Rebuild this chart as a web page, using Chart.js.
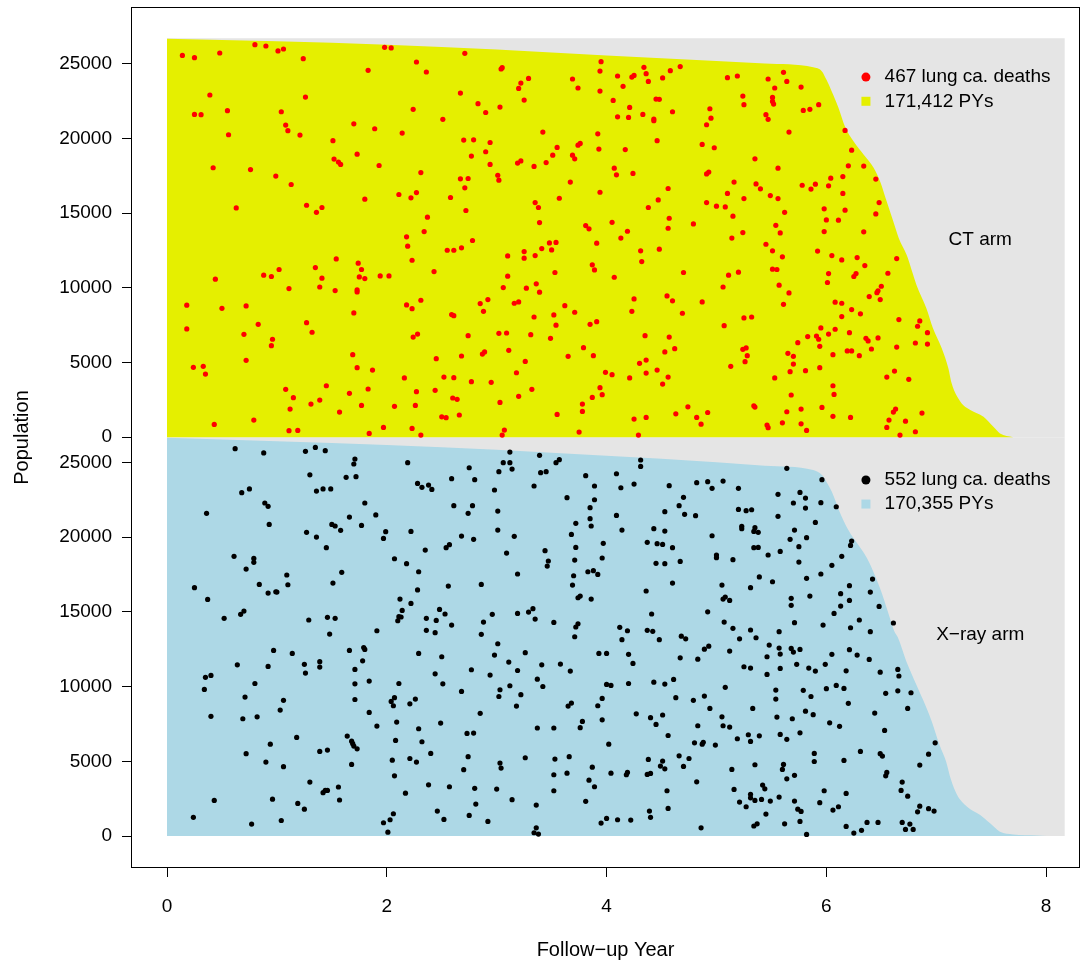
<!DOCTYPE html>
<html>
<head>
<meta charset="utf-8">
<script src="https://cdn.jsdelivr.net/npm/chart.js@4.4.1/dist/chart.umd.min.js"></script>
<style>
  html, body { margin: 0; padding: 0; background: #fff; }
</style>
</head>
<body>
<canvas id="grafica" width="1089" height="967"></canvas>
<script>
// Eje x y marcas
const xTicks = [0, 2, 4, 6, 8];
const yTicks = [0, 5000, 10000, 15000, 20000, 25000];

// Población en riesgo (miles) por año de seguimiento
const ctRiskYears = [0, 1, 2, 3, 4, 5, 5.44, 5.88, 5.96, 6.00, 6.05, 6.11, 6.17, 6.25, 6.34, 6.43, 6.49, 6.55, 6.61, 6.66, 6.73, 6.82, 6.91, 6.97, 7.05, 7.11, 7.14, 7.22, 7.31, 7.43, 7.52, 7.58, 7.70];
const ctRiskK = [26.67, 26.49, 26.27, 25.95, 25.55, 25.17, 25.0, 24.75, 24.48, 23.93, 23.12, 22.05, 20.78, 19.77, 18.90, 18.03, 17.09, 15.75, 14.41, 13.3, 12.20, 10.19, 8.63, 7.29, 5.95, 4.61, 3.60, 2.37, 1.81, 1.36, 0.69, 0.25, 0];
const xrayRiskYears = [0, 1, 2, 3, 4, 5, 5.44, 5.88, 5.96, 6.00, 6.05, 6.12, 6.20, 6.28, 6.37, 6.44, 6.50, 6.56, 6.62, 6.65, 6.73, 6.82, 6.90, 6.96, 7.03, 7.09, 7.13, 7.19, 7.28, 7.40, 7.49, 7.58, 7.70, 7.91, 8.0];
const xrayRiskK = [26.65, 26.42, 26.17, 25.85, 25.45, 25.02, 24.78, 24.50, 24.16, 23.71, 23.04, 21.71, 20.48, 19.59, 18.59, 17.47, 16.35, 15.01, 13.67, 13.3, 11.65, 10.11, 8.77, 7.65, 6.09, 4.97, 3.86, 2.74, 1.96, 1.41, 0.85, 0.29, 0.11, 0.04, 0];
const panelTopK = 26.7;   // alto del fondo gris
const panelEnd = 8.17;    // fin del fondo gris

// Muertes: [año, población en miles]
const ctDeaths = [
[0.14,25.55],[0.25,25.40],[0.48,25.71],[0.80,26.27],[0.90,26.18],[1.01,25.85],[1.06,25.98],[1.24,25.33],[1.98,26.09],[2.04,26.05],[2.27,25.11],[2.36,24.44],[1.83,24.55],[0.39,22.90],[1.26,22.76],[0.25,21.60],[0.31,21.58],[0.55,21.85],[1.04,21.78],[2.24,21.94],[2.51,21.27],[1.08,20.89],[1.10,20.51],[1.21,20.22],[1.70,20.97],[1.89,20.64],[2.14,20.35],[0.56,20.24],[1.51,19.84],[1.73,18.94],[1.52,18.61],[1.56,18.41],[1.58,18.25],[1.93,18.18],[2.31,17.71],[0.42,18.03],[0.76,17.91],[0.99,17.47],[1.13,16.91],[2.11,16.24],[2.22,16.02],[2.27,16.37],[2.58,16.04],[1.80,15.93],[0.63,15.34],[1.27,15.52],[1.41,15.37],[1.36,15.05],[2.37,14.72],[2.34,13.76],
[2.71,25.69],[2.67,23.03],[2.70,19.88],[2.67,17.29],[2.71,16.69],[2.72,15.17],[2.83,22.32],[2.90,21.73],[3.03,22.09],[3.04,24.64],[3.05,24.73],[3.22,23.70],[3.20,23.34],[3.29,24.01],[3.25,22.56],[3.69,23.97],[3.74,23.37],[3.95,25.13],[3.94,24.50],[3.94,23.16],[4.10,24.17],[4.15,23.48],[4.23,24.10],[4.25,24.21],[4.34,24.75],[4.36,24.33],[4.38,23.81],[4.51,24.04],[4.58,24.53],[4.67,24.80],[5.10,24.06],[5.19,24.17],[5.24,22.83],[5.25,22.25],[4.06,22.54],[4.21,22.07],[4.20,21.40],[4.10,21.44],[4.33,21.60],[4.45,22.63],[4.48,22.61],[4.43,21.18],[4.43,21.29],[4.60,21.78],[4.94,21.98],[4.95,21.35],[4.91,20.91],[3.42,20.42],[2.79,19.90],[2.94,19.72],[2.90,19.10],[2.77,18.81],[2.94,18.25],[3.92,20.30],[3.93,19.28],[4.17,19.25],[4.46,19.84],[4.87,19.59],[4.98,19.37],[3.74,19.54],[3.76,19.66],[3.55,19.39],[3.51,18.87],[3.69,18.87],[3.71,18.63],[3.45,18.38],[3.34,18.12],[3.19,18.34],[3.22,18.49],[3.01,17.53],[3.02,17.20],[2.74,17.31],[3.67,17.07],[4.07,18.00],[4.09,17.56],[4.24,17.65],[4.91,17.62],[4.93,17.74],[5.16,17.07],[5.35,18.63],[5.36,16.95],[3.94,16.39],[4.56,16.64],[5.10,16.31],[5.25,15.97],[4.91,15.70],[5.00,15.46],[5.08,15.41],[4.47,15.88],[4.38,15.37],[3.57,15.99],[3.35,15.70],[3.38,15.37],[3.39,14.36],[3.81,14.16],[3.84,13.94],[4.05,14.38],[4.19,13.78],[4.57,14.65],[4.56,13.98],[4.79,14.27],[5.15,14.79],[5.24,13.69],
[5.61,24.42],[5.64,23.81],[5.47,23.97],[5.53,23.37],[5.77,23.43],[5.51,22.74],[5.51,22.47],[5.52,22.29],[5.79,21.87],[5.85,21.94],[5.93,22.25],[5.45,21.58],[5.47,21.27],[5.66,20.42],[6.17,20.53],[6.23,19.21],[5.56,18.00],[6.20,18.16],[6.34,18.14],[6.45,17.27],[6.04,17.33],[6.15,17.44],[5.40,16.62],[5.78,16.86],[5.90,16.93],[5.86,16.60],[6.02,16.82],[6.15,16.31],[5.49,16.17],[5.56,15.97],[6.48,15.70],[5.62,15.05],[5.98,15.28],[6.17,15.19],[6.45,14.94],[5.54,14.18],[5.58,13.67],[6.00,14.54],[6.11,14.52],[5.98,13.76],[6.34,13.74],
[2.18,13.41],[2.19,12.78],[2.55,12.51],[2.61,12.51],[2.23,11.84],[1.54,11.93],[1.74,11.64],[1.77,11.22],[1.75,10.72],[1.80,10.61],[1.35,11.35],[1.41,10.64],[1.39,10.05],[1.53,9.81],[1.73,9.85],[1.73,9.72],[1.94,10.79],[2.02,10.79],[2.43,11.08],[1.11,9.94],[1.02,11.22],[0.88,10.84],[0.95,10.75],[0.44,10.57],[0.18,8.83],[0.50,8.62],[0.72,8.78],[0.18,7.24],[0.70,6.88],[0.83,7.55],[0.96,6.55],[0.95,6.12],[1.27,7.66],[1.32,7.02],[1.70,8.31],[2.18,8.85],[2.23,8.60],[2.31,9.16],[2.59,8.20],[2.61,8.13],[2.24,6.70],[2.28,6.90],[2.45,5.25],[1.69,5.52],[1.73,4.65],[1.87,4.49],[2.16,3.96],[2.52,4.02],[2.61,3.98],[0.24,4.67],[0.33,4.74],[0.35,4.22],[0.72,5.14],[1.08,3.20],[1.15,2.64],[1.45,3.44],[1.66,2.93],[1.83,3.22],[1.12,1.88],[1.31,2.21],[1.39,2.48],[1.57,1.68],[1.77,2.12],[2.07,2.06],[2.26,2.12],[2.27,3.04],[2.44,3.13],[2.60,2.62],[2.64,2.53],[2.66,1.48],[2.50,1.36],[2.54,1.30],[0.43,0.85],[0.79,1.14],[1.11,0.43],[1.19,0.45],[1.84,0.25],[1.97,0.65],[2.23,0.58],[2.31,0.14],
[2.78,13.16],[2.68,12.67],[3.10,12.13],[3.25,12.42],[3.25,11.98],[3.35,12.15],[3.41,12.62],[3.48,13.00],[3.54,13.03],[3.50,12.53],[3.91,12.98],[4.13,13.32],[4.31,12.47],[4.48,12.58],[4.32,11.75],[5.14,13.32],[3.87,11.53],[3.89,11.19],[3.53,11.02],[4.07,10.70],[3.10,10.77],[3.06,10.01],[3.27,9.97],[3.36,10.26],[3.39,9.70],[4.70,11.02],[5.11,10.84],[5.20,11.04],[5.06,10.05],[2.85,8.94],[2.92,9.21],[2.88,8.42],[3.16,8.96],[3.20,9.05],[3.34,8.04],[3.52,8.18],[3.54,7.49],[3.62,8.80],[3.71,8.36],[3.85,7.55],[3.91,7.73],[4.25,9.25],[4.23,8.42],[4.55,9.45],[4.60,9.12],[4.69,8.29],[4.87,9.05],[5.25,7.98],[5.32,8.04],[5.07,7.46],[2.74,6.79],[3.02,6.95],[3.09,6.97],[3.31,6.86],[3.49,6.61],[4.35,6.79],[4.57,6.70],[2.68,5.43],[2.87,5.56],[2.89,5.70],[3.11,5.81],[3.26,5.07],[3.65,5.41],[3.79,5.99],[3.88,5.45],[4.53,5.70],[4.62,5.92],[4.30,4.94],[4.36,5.16],[5.24,5.88],[5.27,5.97],[5.28,5.45],[5.26,5.05],[5.13,4.74],[3.18,4.31],[2.77,3.71],[2.95,3.67],[3.99,4.34],[4.05,4.18],[4.21,3.96],[4.36,4.29],[4.46,4.49],[4.56,4.02],[4.51,3.55],[3.32,3.20],[3.20,2.73],[3.03,2.32],[3.94,3.31],[3.96,2.84],[3.87,2.66],[3.78,2.21],[3.78,1.72],[3.55,1.52],[4.74,2.03],[4.63,1.56],[4.36,1.32],[4.25,1.21],[4.82,1.32],[4.92,1.65],[4.86,0.87],[5.34,2.10],[5.35,2.01],[3.07,0.47],[3.05,0.14],[3.75,0.34],[4.29,0.14],
[5.45,12.91],[5.51,12.47],[5.60,12.07],[5.92,12.45],[6.05,12.15],[6.14,11.86],[6.28,12.02],[6.35,11.48],[6.64,11.95],[5.51,11.24],[5.55,11.22],[6.02,10.95],[6.01,10.35],[6.25,10.75],[6.27,10.95],[6.56,10.97],[5.57,10.17],[5.66,9.65],[5.61,8.89],[6.39,9.41],[6.46,9.67],[6.47,9.79],[6.50,10.10],[6.49,9.21],[6.08,9.03],[6.14,8.96],[6.23,8.54],[6.31,8.25],[6.14,8.07],[6.66,7.87],[6.85,7.78],[6.83,7.42],[6.92,6.99],[5.95,7.31],[6.08,7.22],[6.02,6.90],[6.21,6.99],[5.83,6.73],[5.91,6.77],[5.93,6.55],[5.94,6.08],[5.74,6.32],[6.36,6.61],[6.38,6.44],[6.47,6.64],[6.41,5.90],[6.81,6.30],[6.92,6.23],[6.64,6.03],[6.19,5.77],[6.23,5.77],[6.30,5.45],[6.06,5.52],[5.65,5.61],[5.70,5.41],[5.70,4.89],[5.67,4.38],[5.81,4.45],[5.94,4.65],[5.53,3.96],[6.55,4.02],[6.62,4.42],[6.75,3.87],[6.06,3.44],[6.07,2.86],[5.68,2.82],[5.64,1.70],[5.77,1.88],[5.96,1.99],[6.06,1.39],[6.22,1.32],[6.63,1.88],[6.61,1.68],[6.57,1.14],[6.72,1.07],[6.87,1.61],[6.55,0.65],[6.81,0.36],[6.67,0.14],[5.46,0.81],[5.47,0.63],[5.60,0.96],[5.77,0.89],[5.82,0.45]
];

const xrayDeaths = [
[0.62,25.93],[0.88,25.64],[1.26,25.75],[1.35,26.01],[1.44,25.79],[1.71,25.23],[1.70,24.90],[2.19,24.99],[1.30,24.18],[1.63,24.01],[1.72,24.05],[2.59,23.92],[0.68,22.98],[0.75,23.23],[1.36,23.09],[1.42,23.23],[1.49,23.23],[2.28,23.60],[2.32,23.34],[2.38,23.49],[2.41,23.20],[0.36,21.60],[0.89,22.29],[0.92,22.07],[1.80,22.29],[2.61,22.11],[0.93,20.86],[1.66,21.35],[1.90,21.49],[1.50,20.86],[1.53,20.75],[1.58,20.46],[1.77,20.79],[1.27,20.33],[1.36,20.01],[1.99,20.37],[1.97,19.92],[2.22,20.39],[1.45,19.30],[2.35,19.14],[2.54,19.30],[2.57,19.50],[0.61,18.72],[0.79,18.58],[0.79,18.32],[0.72,17.87],[2.07,18.56],[2.18,18.23],[2.29,17.69],[1.09,17.47],[1.10,16.82],[0.84,16.84],[0.92,16.26],[0.99,16.35],[1.00,16.33],[1.59,17.65],[1.51,16.93],[0.25,16.62],[0.37,15.84],[2.56,16.73],[2.28,16.47],[2.12,15.86],[2.22,15.57],[0.52,14.57],[0.67,14.84],[0.70,15.06],[1.29,14.46],[1.46,14.64],[1.53,14.57],[2.14,15.10],[2.11,14.68],[2.13,14.66],[2.10,14.41],[2.36,14.57],[2.45,14.43],[2.48,15.17],[2.53,14.86],[2.59,14.12],[1.91,13.74],[1.48,13.52],[2.36,13.77],[2.44,13.61],
[3.12,25.70],[3.39,25.48],[3.06,24.99],[3.12,24.99],[3.14,24.56],[3.02,24.39],[3.54,24.99],[3.57,25.19],[3.40,24.32],[3.45,24.39],[2.75,24.65],[2.80,23.85],[2.98,23.16],[3.34,23.43],[3.81,24.12],[3.89,23.43],[4.09,24.25],[4.31,25.17],[4.31,24.74],[4.13,23.31],[4.25,23.56],[4.57,23.45],[4.82,23.65],[4.92,23.72],[4.96,23.27],[5.06,23.76],[5.20,23.27],[3.64,22.65],[3.89,22.51],[3.85,21.98],[3.85,21.24],[3.86,20.75],[3.72,20.93],[4.09,21.46],[4.70,22.67],[4.66,22.11],[4.71,21.53],[4.81,21.44],[4.53,21.71],[5.20,21.86],[5.27,21.78],[5.32,21.84],[2.78,22.11],[2.74,21.60],[3.01,21.75],[3.01,20.48],[2.68,20.08],[2.79,19.86],[3.16,20.06],[3.68,20.19],[3.72,19.32],[3.97,19.59],[4.14,20.48],[4.43,20.57],[4.53,20.41],[4.37,19.66],[4.46,19.57],[4.51,19.52],[4.60,19.30],[4.96,20.10],[5.23,20.73],[5.23,20.57],[5.35,20.64],[5.34,20.39],[5.38,20.33],[5.34,19.30],[5.38,19.32],[3.09,18.94],[3.44,19.10],[3.47,18.41],[3.46,18.07],[3.71,18.47],[3.96,18.61],[3.83,17.69],[3.88,17.76],[3.92,17.51],[3.70,17.42],[3.69,16.80],[3.19,17.54],[2.86,16.84],[4.45,18.25],[4.53,18.23],[4.67,18.38],[5.00,18.81],[5.00,18.63],[5.15,18.50],[4.60,16.93],[4.36,16.40],[5.05,16.80],[5.31,16.62],[5.39,17.34],[3.74,15.95],[3.76,16.06],[3.86,15.86],[5.06,15.86],[5.08,16.00],[5.12,15.77],[4.92,15.01],[4.41,14.86],[3.33,15.22],[3.29,14.99],[3.35,14.52],[3.19,14.90],[2.96,14.84],[2.88,14.32],[2.86,13.50],[3.52,14.30],[3.74,14.21],[3.72,13.99],[4.12,13.97],[4.19,13.74],[4.37,13.77],[4.42,13.70],[5.07,14.32],[5.15,13.90],[5.31,13.79],
[5.64,24.61],[5.96,23.85],[5.56,22.87],[5.76,23.00],[5.81,22.62],[5.70,22.29],[5.81,21.95],[5.95,22.31],[6.09,22.04],[5.56,21.40],[5.90,20.99],[5.71,20.48],[5.67,19.86],[5.82,19.97],[5.75,19.37],[5.47,18.81],[5.58,19.05],[6.23,19.74],[6.22,19.45],[6.14,18.72],[6.05,18.12],[5.75,18.34],[5.95,17.54],[5.82,17.25],[5.51,17.02],[6.21,16.76],[6.42,17.20],[6.13,16.22],[6.40,16.33],[5.85,16.06],[5.68,15.91],[5.68,15.44],[6.21,15.77],[6.13,15.39],[6.48,15.37],[6.07,14.90],[5.71,14.28],[5.97,14.12],[6.22,13.94],[6.30,14.46],[6.40,13.68],[6.61,14.26],[5.57,13.68],
[0.97,12.42],[1.14,12.22],[1.66,12.42],[1.79,12.62],[1.80,12.49],[2.29,12.22],[2.50,12.00],[0.64,11.46],[0.92,11.35],[1.25,11.49],[1.39,11.67],[1.39,11.31],[1.26,10.91],[1.78,11.73],[1.71,11.15],[0.35,10.62],[0.40,10.75],[0.34,9.81],[0.80,10.21],[1.71,10.19],[1.84,10.37],[2.11,10.21],[2.44,10.86],[2.51,10.19],[2.68,9.68],[0.71,9.30],[1.06,9.08],[1.03,8.43],[1.71,9.14],[2.04,9.01],[2.07,9.26],[2.06,8.72],[2.21,8.85],[2.26,9.17],[0.40,8.01],[0.69,7.85],[0.82,7.98],[1.84,8.27],[1.91,7.36],[2.09,7.63],[2.29,7.18],[2.49,7.56],[1.18,6.60],[0.94,6.15],[1.64,6.69],[1.68,6.35],[1.69,6.18],[1.70,6.02],[1.73,5.84],[1.39,5.66],[1.46,5.75],[2.08,6.40],[2.32,6.31],[2.40,5.53],[0.72,5.51],[0.90,4.95],[1.06,4.64],[1.68,4.79],[2.05,5.08],[2.21,5.19],[2.27,4.95],[2.07,4.03],[2.70,4.44],[1.30,3.61],[1.42,2.90],[1.44,3.05],[1.46,3.05],[1.56,3.28],[1.57,2.41],[2.38,3.43],[2.57,3.30],[2.17,2.87],[0.43,2.38],[0.96,2.47],[1.19,2.18],[1.25,1.80],[0.24,1.25],[0.77,0.80],[1.04,1.04],[2.06,1.49],[2.03,1.09],[1.97,0.89],[2.01,0.26],[2.46,1.67],[2.52,1.11],
[3.71,13.34],[4.14,13.14],[4.48,13.14],[4.68,13.38],[4.72,13.20],[5.21,13.20],[5.36,13.27],[3.01,12.87],[2.98,12.11],[3.26,12.27],[3.11,11.64],[2.77,11.13],[2.94,10.77],[3.19,11.08],[3.41,11.46],[3.58,11.51],[3.67,11.04],[3.93,12.22],[4.00,12.22],[4.20,12.16],[4.24,11.55],[4.67,11.93],[4.83,11.84],[4.89,12.51],[4.93,12.71],[5.12,12.38],[5.25,11.33],[5.31,11.24],[3.37,10.50],[3.42,10.01],[3.12,10.06],[3.03,9.79],[3.02,9.34],[3.22,9.46],[3.18,8.70],[2.85,8.21],[4.00,10.15],[4.04,10.08],[4.20,10.21],[4.43,10.30],[4.53,10.17],[4.61,10.48],[5.08,9.95],[3.96,9.21],[3.92,8.72],[3.68,8.90],[3.65,8.70],[4.63,9.26],[4.79,9.08],[4.89,9.37],[4.94,8.54],[5.33,8.54],[4.27,8.18],[4.40,7.92],[4.45,7.47],[4.51,8.10],[3.96,7.78],[3.78,7.67],[3.76,7.25],[3.37,7.23],[3.52,7.23],[2.73,6.87],[2.79,6.89],[5.05,7.98],[5.06,7.38],[5.12,7.29],[4.83,7.38],[4.56,6.73],[5.19,6.51],[5.29,6.78],[5.31,6.33],[5.39,6.71],[4.80,6.24],[4.87,6.15],[4.88,6.27],[4.99,6.09],[4.02,6.15],[2.74,5.31],[3.03,4.88],[3.04,4.55],[3.26,5.24],[3.53,5.15],[3.66,5.31],[3.52,4.10],[3.64,4.21],[3.87,4.61],[3.84,3.74],[3.89,3.30],[4.04,4.21],[4.18,4.10],[4.19,4.26],[4.37,4.12],[4.40,4.19],[4.38,5.13],[4.49,4.68],[4.51,5.02],[4.53,4.50],[4.66,5.37],[4.70,4.66],[4.75,5.19],[4.82,3.63],[5.14,4.46],[5.35,4.77],[2.80,3.19],[3.00,3.14],[3.52,3.03],[3.14,2.43],[2.81,2.14],[3.36,2.07],[3.81,2.32],[4.55,3.03],[5.16,3.12],[5.31,2.79],[5.31,2.56],[5.35,2.38],[5.21,2.27],[5.27,1.96],[2.75,1.38],[2.92,0.98],[3.36,0.55],[3.34,0.22],[3.38,0.13],[4.00,1.18],[3.95,0.87],[4.10,1.09],[4.22,1.07],[4.39,1.67],[4.40,1.25],[4.56,1.85],[4.86,0.55],[5.34,0.67],[5.37,0.82],
[5.48,12.78],[5.57,12.58],[5.68,12.56],[5.70,12.31],[5.76,12.49],[5.46,12.00],[5.58,12.18],[6.05,12.16],[6.21,12.47],[6.28,12.11],[6.39,11.82],[5.46,10.82],[5.58,11.22],[5.73,11.49],[5.84,11.24],[5.90,11.04],[5.99,11.49],[6.18,11.06],[6.49,10.97],[6.65,11.15],[6.66,10.71],[5.54,9.77],[5.54,9.17],[5.79,9.75],[5.86,9.34],[6.00,9.86],[6.09,10.08],[6.16,9.88],[6.54,9.55],[6.65,9.72],[6.77,9.59],[6.20,8.88],[5.55,7.96],[5.69,7.85],[5.81,8.36],[5.88,8.12],[6.03,7.58],[6.12,7.34],[6.44,8.23],[6.74,8.54],[5.58,6.80],[5.64,6.47],[5.76,6.91],[6.53,7.07],[6.99,6.24],[6.93,5.48],[6.85,4.75],[5.89,5.53],[5.89,4.99],[6.16,5.06],[6.31,5.66],[6.49,5.51],[6.51,5.35],[5.61,4.79],[5.60,4.46],[5.64,3.83],[5.71,4.06],[6.54,4.03],[6.55,4.26],[6.69,3.61],[6.68,3.05],[6.74,2.67],[5.42,3.41],[5.44,3.16],[5.41,2.45],[5.49,2.34],[5.57,2.61],[5.71,2.34],[5.74,1.80],[5.77,1.65],[5.45,1.47],[5.98,3.03],[6.18,2.85],[5.94,2.23],[6.06,1.74],[6.11,1.96],[6.83,1.62],[6.85,2.00],[6.93,1.83],[6.98,1.67],[5.62,0.82],[5.76,0.98],[5.82,0.11],[6.18,0.64],[6.25,0.20],[6.32,0.38],[6.37,0.91],[6.47,0.91],[6.69,0.91],[6.72,0.44],[6.76,0.80],[6.79,0.44]
];

// Textos
const ctLegend = ['467 lung ca. deaths', '171,412 PYs'];
const xrayLegend = ['552 lung ca. deaths', '170,355 PYs'];
const panelNames = ['CT arm', 'X\u2212ray arm'];

// Colores
const colorCT = '#e5ef00';
const colorXray = '#add8e6';
const colorGris = '#e5e5e5';

// El panel CT se dibuja desplazado hacia arriba en el mismo eje y
const OFFSET = 26700;
const FUENTE = '"Liberation Sans", Arial, Helvetica, sans-serif';

function puntos(lista, desp) {
  return lista.map(p => ({ x: p[0], y: p[1] * 1000 + desp }));
}
function curva(anios, miles, desp) {
  return anios.map((a, i) => ({ x: a, y: miles[i] * 1000 + desp }));
}
function fondo(desp) {
  return [{ x: 0, y: panelTopK * 1000 + desp }, { x: panelEnd, y: panelTopK * 1000 + desp }];
}

// Leyendas, nombres de panel y marco
const anotaciones = {
  id: 'anotaciones',
  afterDraw(chart) {
    const { ctx, chartArea: a, scales } = chart;
    const xs = scales.x, ys = scales.y;
    ctx.save();
    ctx.strokeStyle = '#000';
    ctx.lineWidth = 1;
    ctx.strokeRect(a.left + 0.5, a.top + 0.5, a.right - a.left - 1, a.bottom - a.top - 1);

    ctx.font = '19px ' + FUENTE;
    ctx.fillStyle = '#000';
    ctx.textBaseline = 'middle';

    const mx = xs.getPixelForValue(6.36);
    const tx = xs.getPixelForValue(6.53);
    const filas = [
      { y1: OFFSET + 24100, y2: OFFSET + 22480, punto: '#ff0000', area: colorCT, textos: ctLegend },
      { y1: 23830, y2: 22220, punto: '#000000', area: colorXray, textos: xrayLegend }
    ];
    filas.forEach(f => {
      const p1 = ys.getPixelForValue(f.y1);
      const p2 = ys.getPixelForValue(f.y2);
      ctx.fillStyle = f.punto;
      ctx.beginPath();
      ctx.arc(mx, p1, 4.5, 0, Math.PI * 2);
      ctx.fill();
      ctx.fillStyle = f.area;
      ctx.fillRect(mx - 4.5, p2 - 4.5, 9, 9);
      ctx.fillStyle = '#000';
      ctx.textAlign = 'left';
      ctx.fillText(f.textos[0], tx, p1);
      ctx.fillText(f.textos[1], tx, p2);
    });

    ctx.textAlign = 'center';
    const cx = xs.getPixelForValue(7.40);
    ctx.fillText(panelNames[0], cx, ys.getPixelForValue(OFFSET + 13200));
    ctx.fillText(panelNames[1], cx, ys.getPixelForValue(13460));
    ctx.restore();
  }
};

const grafica = new Chart(document.getElementById('grafica'), {
  type: 'line',
  data: {
    datasets: [
      {
        type: 'scatter', label: 'CT deaths', data: puntos(ctDeaths, OFFSET),
        backgroundColor: '#ff0000', borderWidth: 0, pointRadius: 2.6, order: 0
      },
      {
        type: 'scatter', label: 'X-ray deaths', data: puntos(xrayDeaths, 0),
        backgroundColor: '#000000', borderWidth: 0, pointRadius: 2.6, order: 0
      },
      {
        label: 'CT PYs', data: curva(ctRiskYears, ctRiskK, OFFSET),
        borderWidth: 0, pointRadius: 0, backgroundColor: colorCT,
        fill: { value: OFFSET }, cubicInterpolationMode: 'monotone', order: 1
      },
      {
        label: 'X-ray PYs', data: curva(xrayRiskYears, xrayRiskK, 0),
        borderWidth: 0, pointRadius: 0, backgroundColor: colorXray,
        fill: { value: 0 }, cubicInterpolationMode: 'monotone', order: 1
      },
      {
        label: 'fondo CT', data: fondo(OFFSET), borderWidth: 0, pointRadius: 0,
        backgroundColor: colorGris, fill: { value: OFFSET }, order: 2
      },
      {
        label: 'fondo X-ray', data: fondo(0), borderWidth: 0, pointRadius: 0,
        backgroundColor: colorGris, fill: { value: 0 }, order: 2
      }
    ]
  },
  options: {
    responsive: false,
    animation: false,
    events: [],
    layout: { padding: { top: 7, right: 9, left: 0, bottom: 0 } },
    plugins: {
      legend: { display: false },
      tooltip: { enabled: false }
    },
    scales: {
      x: {
        type: 'linear',
        min: -0.3276,
        max: 8.308,
        afterBuildTicks: s => { s.ticks = xTicks.map(v => ({ value: v })); },
        afterFit: s => { s.height = 99; s.paddingLeft = 0; s.paddingRight = 0; },
        ticks: {
          color: '#000', font: { family: FUENTE, size: 19 }, padding: 18,
          autoSkip: false, maxRotation: 0, callback: v => String(v)
        },
        grid: { drawOnChartArea: false, drawTicks: true, tickLength: 9, color: '#000' },
        border: { display: false },
        title: {
          display: true, text: 'Follow\u2212up Year', color: '#000',
          font: { family: FUENTE, size: 20 }, padding: { top: 0, bottom: 5 }
        }
      },
      y: {
        type: 'linear',
        min: -2140,
        max: 55490,
        afterBuildTicks: s => {
          s.ticks = yTicks.map(v => ({ value: v })).concat(yTicks.map(v => ({ value: v + OFFSET })));
        },
        afterFit: s => { s.width = 131; s.paddingTop = 0; s.paddingBottom = 0; },
        ticks: {
          color: '#000', font: { family: FUENTE, size: 19 }, padding: 10, autoSkip: false,
          callback: v => String(v >= OFFSET - 100 ? v - OFFSET : v)
        },
        grid: { drawOnChartArea: false, drawTicks: true, tickLength: 9, color: '#000' },
        border: { display: false },
        title: {
          display: true, text: 'Population', color: '#000',
          font: { family: FUENTE, size: 20 }, padding: { top: 10, bottom: 0 }
        }
      }
    }
  },
  plugins: [anotaciones]
});
</script>
</body>
</html>
